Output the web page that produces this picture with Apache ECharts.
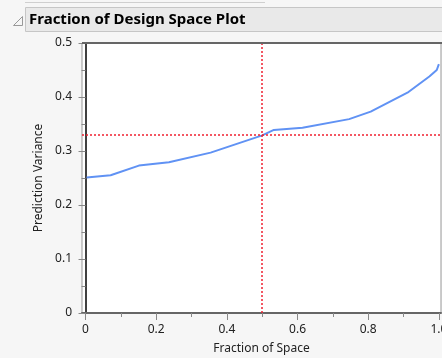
<!DOCTYPE html>
<html><head><meta charset="utf-8">
<script src="https://cdn.jsdelivr.net/npm/echarts@6/dist/echarts.min.js"></script>
<style>html,body{margin:0;padding:0;background:#f6f6f6}#c{width:442px;height:358px}</style>
</head><body><div id="c"></div>
<script>
const fractionOfSpace = [0.003, 0.071, 0.151, 0.236, 0.354, 0.5, 0.533, 0.614, 0.746, 0.807, 0.911, 0.973, 0.994, 1.0];
const predictionVariance = [0.251, 0.255, 0.273, 0.279, 0.297, 0.329, 0.339, 0.343, 0.359, 0.373, 0.408, 0.438, 0.45, 0.461];
const xMajorTicks = [0, 0.2, 0.4, 0.6, 0.8, 1.0];
const xMinorTicks = [0.1, 0.3, 0.5, 0.7, 0.9];
const refX = 0.5;
const refY = 0.33;
const titleText = 'Fraction of Design Space Plot';
const font = 'Noto Sans';
const fmt = v => v === 0 ? '0' : v.toFixed(1);
const refLine = {color: '#f02030', type: [2, 2], width: 1.5, opacity: 1};

const chart = echarts.init(document.getElementById('c'), null, {renderer: 'canvas'});
chart.setOption({
  backgroundColor: '#f6f6f6',
  animation: false,
  textStyle: {fontFamily: font},
  grid: {left: 82, top: 43, right: 1, bottom: 45, outerBoundsMode: 'none', containLabel: false,
         show: true, backgroundColor: '#ffffff', borderColor: '#999', borderWidth: 1},
  graphic: [
    {type: 'line', shape: {x1: 25, y1: 2.5, x2: 265, y2: 2.5}, style: {stroke: '#cfcfcf', lineWidth: 1}},
    {type: 'rect', shape: {x: 25.5, y: 7.5, width: 420, height: 24}, style: {fill: '#e9e9e9', stroke: '#c6c6c6', lineWidth: 1}},
    {type: 'polygon', shape: {points: [[13.5, 25.5], [22.5, 25.5], [22.5, 16.5]]}, style: {fill: 'none', stroke: '#999', lineWidth: 1}},
    {type: 'text', x: 29, y: 19.5, style: {text: titleText, font: 'bold 15px "Noto Sans"', fill: '#000', textVerticalAlign: 'middle'}},
    {type: 'line', shape: {x1: 82, y1: 43, x2: 442, y2: 43}, style: {stroke: '#666', lineWidth: 2}, z: 100}
  ],
  xAxis: [
    {type: 'value', min: -0.01, max: 1.006,
     name: 'Fraction of Space', nameLocation: 'middle', nameGap: 30,
     nameTextStyle: {fontSize: 12, color: '#222', fontFamily: font},
     axisLine: {show: true, onZero: false, lineStyle: {color: '#666', width: 2}},
     axisTick: {show: true, length: 7, customValues: xMajorTicks, lineStyle: {color: '#888'}},
     axisLabel: {customValues: xMajorTicks, formatter: fmt, fontSize: 12, color: '#222', margin: 11, fontFamily: font},
     splitLine: {show: false}},
    {type: 'value', min: -0.01, max: 1.006, position: 'bottom',
     axisLine: {show: false},
     axisTick: {show: true, length: 4, customValues: xMinorTicks, lineStyle: {color: '#888'}},
     axisLabel: {show: false}, splitLine: {show: false}}
  ],
  yAxis: {type: 'value', min: 0, max: 0.5, interval: 0.1,
    name: 'Prediction Variance', nameLocation: 'middle', nameGap: 36,
    nameTextStyle: {fontSize: 12, color: '#222', fontFamily: font},
    axisLine: {show: true, lineStyle: {color: '#000', width: 1.5}},
    axisTick: {show: true, length: 7, lineStyle: {color: '#888'}},
    minorTick: {show: true, splitNumber: 2, length: 4, lineStyle: {color: '#888'}},
    axisLabel: {formatter: fmt, fontSize: 12, color: '#222', margin: 10, fontFamily: font},
    splitLine: {show: false}},
  series: [
    {type: 'line', xAxisIndex: 0, data: fractionOfSpace.map((x, i) => [x, predictionVariance[i]]),
     showSymbol: false, symbol: 'none', z: 2,
     lineStyle: {color: '#6092f4', width: 2}},
    {type: 'line', xAxisIndex: 0, data: [], z: 3, color: '#f02030', itemStyle: {color: '#f02030'},
     markLine: {silent: true, symbol: 'none', label: {show: false}, animation: false,
       lineStyle: refLine, itemStyle: {color: '#f02030'},
       data: [[{coord: [refX, 0]}, {coord: [refX, 0.5]}],
              [{coord: [-0.01, refY]}, {coord: [1.006, refY]}]]}}
  ]
});
</script></body></html>
